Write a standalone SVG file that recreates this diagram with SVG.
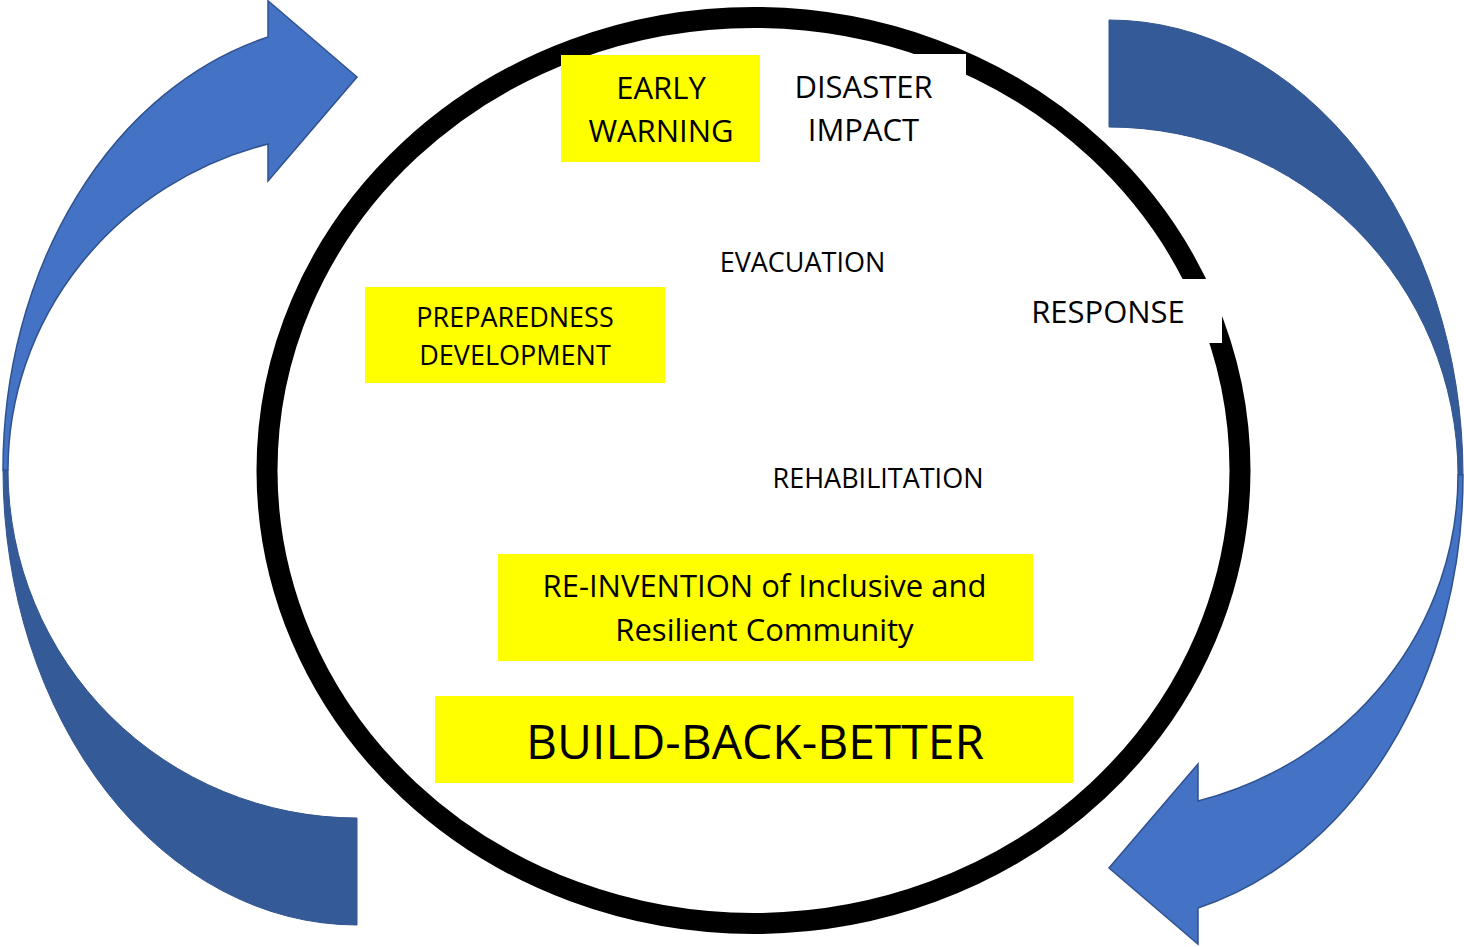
<svg xmlns="http://www.w3.org/2000/svg" xmlns:xlink="http://www.w3.org/1999/xlink" width="1464" height="947" viewBox="0 0 1464 947">
  <style>
    .t { font-family: "Open Sans", "Noto Sans", "DejaVu Sans", sans-serif; fill: #000; text-anchor: middle; }
    .big { font-size: 31px; }
    .mid { font-size: 27px; }
    .huge { font-size: 48px; }
    .hl { fill: #FFFF00; }
    .mask { fill: #FFFFFF; }
    .front { fill: #4472C4; stroke: #2F528F; stroke-width: 1.5; stroke-linejoin: miter; }
    .back { fill: #355A98; stroke: #31548F; stroke-width: 1; }
  </style>
  <defs>
    <g id="curvedArrow">
      <path class="back" d="M 3 470 A 354 455 0 0 0 357 925 L 357 818 A 349 348 0 0 1 8 470 Z"/>
      <path class="front" d="M 268 37 L 268 0.8 L 357 77 L 268 181 L 268 144 A 349 337 0 0 0 8 470 L 3 470 A 354 447 0 0 1 268 37 Z"/>
    </g>
  </defs>
  <rect width="1464" height="947" fill="#FFFFFF"/>

  <g id="connectors">
    <use id="arrow-left" xlink:href="#curvedArrow" href="#curvedArrow"/>
    <use id="arrow-right" xlink:href="#curvedArrow" href="#curvedArrow" transform="rotate(180 733 472.5)"/>
  </g>

  <g id="cycle-ring">
    <ellipse cx="753.5" cy="470.5" rx="486.5" ry="453" fill="none" stroke="#000" stroke-width="21"/>
  </g>

  <g id="node-early-warning">
    <rect class="hl" x="561" y="55" width="199" height="107"/>
    <text class="t big" x="661" y="99">EARLY</text>
    <text class="t big" x="661" y="142">WARNING</text>
  </g>

  <g id="node-disaster-impact">
    <rect class="mask" x="760" y="54" width="206" height="108"/>
    <text class="t big" x="863.5" y="98">DISASTER</text>
    <text class="t big" x="863.5" y="141">IMPACT</text>
  </g>

  <g id="node-evacuation">
    <text class="t mid" x="802.5" y="272">EVACUATION</text>
  </g>

  <g id="node-preparedness">
    <rect class="hl" x="365" y="287" width="300" height="96"/>
    <text class="t mid" x="515" y="327">PREPAREDNESS</text>
    <text class="t mid" x="515" y="365">DEVELOPMENT</text>
  </g>

  <g id="node-response">
    <rect class="mask" x="1010" y="279" width="212" height="64"/>
    <text class="t big" x="1108" y="323">RESPONSE</text>
  </g>

  <g id="node-rehabilitation">
    <text class="t mid" x="878" y="488">REHABILITATION</text>
  </g>

  <g id="node-reinvention">
    <rect class="hl" x="498" y="554" width="535" height="107"/>
    <text class="t big" x="764.5" y="597">RE-INVENTION of Inclusive and</text>
    <text class="t big" x="764.5" y="641">Resilient Community</text>
  </g>

  <g id="node-build-back-better">
    <rect class="hl" x="435" y="696" width="638" height="87"/>
    <text class="t huge" x="755" y="759">BUILD-BACK-BETTER</text>
  </g>
</svg>
